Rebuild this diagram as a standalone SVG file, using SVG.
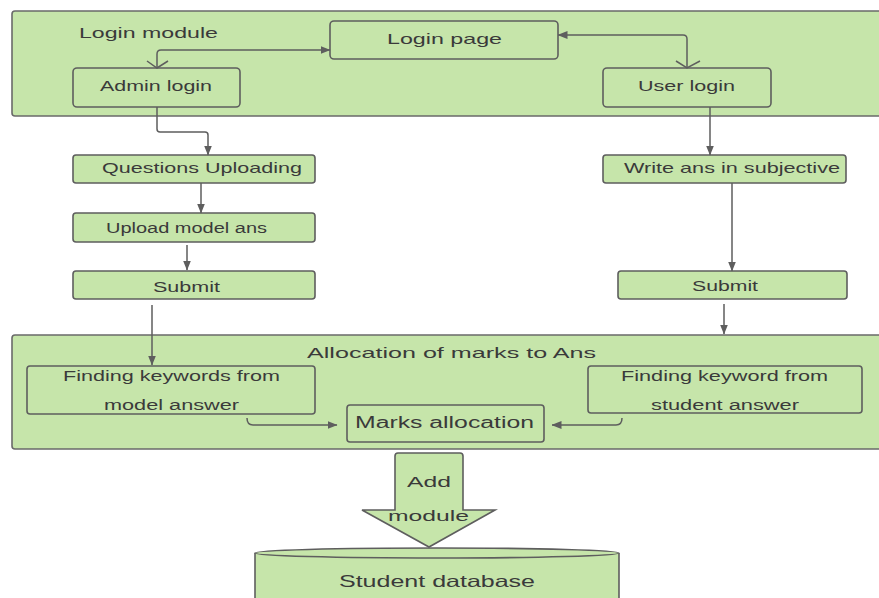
<svg xmlns="http://www.w3.org/2000/svg" width="879" height="598" viewBox="0 0 879 598">
<defs>
<style>
.box{fill:#c6e5aa;stroke:#5e5e5e;stroke-width:1.6}
.cont{fill:#c6e5aa;stroke:#6a6a6a;stroke-width:1.6}
.t{font-family:"Liberation Sans",Arial,sans-serif;fill:#3a3a3a}
.c{fill:none;stroke:#5e5e5e;stroke-width:1.5}
.chev{fill:none;stroke:#5e5e5e;stroke-width:1.5}
</style>
<marker id="ah" viewBox="0 0 10 8" refX="9.5" refY="4" markerWidth="10" markerHeight="8" markerUnits="userSpaceOnUse" orient="auto">
<path d="M0,0 L10,4 L0,8 Z" fill="#5e5e5e"/>
</marker>
</defs>
<rect width="879" height="598" fill="#ffffff"/>

<g id="login-module">
<rect class="cont" x="12" y="11" width="880" height="105" rx="3"/>
<text class="t" x="79" y="38" font-size="15" textLength="139" lengthAdjust="spacingAndGlyphs">Login module</text>
</g>
<g id="login-page">
<rect class="box" x="330" y="21" width="228" height="38" rx="4"/>
<text class="t" x="387" y="44" font-size="14.5" textLength="115" lengthAdjust="spacingAndGlyphs">Login page</text>
</g>
<g id="admin-login">
<rect class="box" x="73" y="68" width="167" height="39" rx="4"/>
<text class="t" x="100" y="91" font-size="15" textLength="112" lengthAdjust="spacingAndGlyphs">Admin login</text>
</g>
<g id="user-login">
<rect class="box" x="603" y="68" width="168" height="39" rx="4"/>
<text class="t" x="638" y="91" font-size="15" textLength="97" lengthAdjust="spacingAndGlyphs">User login</text>
</g>
<g id="questions-uploading">
<rect class="box" x="73" y="155" width="242" height="28" rx="3"/>
<text class="t" x="102" y="173" font-size="14.5" textLength="200" lengthAdjust="spacingAndGlyphs">Questions Uploading</text>
</g>
<g id="write-ans">
<rect class="box" x="603" y="155" width="243" height="28" rx="3"/>
<text class="t" x="624" y="173" font-size="14.5" textLength="216" lengthAdjust="spacingAndGlyphs">Write ans in subjective</text>
</g>
<g id="upload-model-ans">
<rect class="box" x="73" y="213" width="242" height="29" rx="3"/>
<text class="t" x="106" y="233" font-size="14" textLength="161" lengthAdjust="spacingAndGlyphs">Upload model ans</text>
</g>
<g id="submit-admin">
<rect class="box" x="73" y="271" width="242" height="28" rx="3"/>
<text class="t" x="153" y="292" font-size="14" textLength="67" lengthAdjust="spacingAndGlyphs">Submit</text>
</g>
<g id="submit-user">
<rect class="box" x="618" y="271" width="229" height="28" rx="3"/>
<text class="t" x="692" y="291" font-size="14" textLength="66" lengthAdjust="spacingAndGlyphs">Submit</text>
</g>
<g id="allocation-module">
<rect class="cont" x="12" y="335" width="880" height="114" rx="3"/>
<text class="t" x="307" y="358" font-size="14.5" textLength="289" lengthAdjust="spacingAndGlyphs">Allocation of marks to Ans</text>
</g>
<g id="keywords-model">
<rect class="box" x="27" y="366" width="288" height="48" rx="3"/>
<text class="t" x="63" y="381" font-size="14" textLength="217" lengthAdjust="spacingAndGlyphs">Finding keywords from</text>
<text class="t" x="104" y="410" font-size="14" textLength="135" lengthAdjust="spacingAndGlyphs">model answer</text>
</g>
<g id="keywords-student">
<rect class="box" x="588" y="366" width="274" height="47" rx="3"/>
<text class="t" x="621" y="381" font-size="14" textLength="207" lengthAdjust="spacingAndGlyphs">Finding keyword from</text>
<text class="t" x="651" y="410" font-size="14" textLength="148" lengthAdjust="spacingAndGlyphs">student answer</text>
</g>
<g id="marks-allocation">
<rect class="box" x="347" y="405" width="197" height="37" rx="3"/>
<text class="t" x="355" y="428" font-size="16" textLength="179" lengthAdjust="spacingAndGlyphs">Marks allocation</text>
</g>
<g id="add-module">
<path class="box" d="M395,456 Q395,453 398,453 L460,453 Q463,453 463,456 L463,510 L495,510 L429,547 L362,510 L395,510 Z"/>
<text class="t" x="407" y="487" font-size="15" textLength="44" lengthAdjust="spacingAndGlyphs">Add</text>
<text class="t" x="388" y="521" font-size="15" textLength="81" lengthAdjust="spacingAndGlyphs">module</text>
</g>
<g id="student-database">
<path class="box" d="M255,553 L255,610 L619,610 L619,553"/>
<ellipse class="box" cx="437" cy="553" rx="182" ry="5"/>
<text class="t" x="339" y="587" font-size="16.5" textLength="196" lengthAdjust="spacingAndGlyphs">Student database</text>
</g>

<g id="connectors">
<path class="c" d="M157,68 L157,54 Q157,50 161,50 L330,50" marker-end="url(#ah)"/>
<path class="chev" d="M147,61 L157,68 L168,61"/>
<path class="c" d="M687,68 L687,39 Q687,35 683,35 L558,35" marker-end="url(#ah)"/>
<path class="chev" d="M676,61 L687,68 L700,61"/>
<path class="c" d="M157,107 L157,129 Q157,132 160,132 L205,132 Q208,132 208,135 L208,155" marker-end="url(#ah)"/>
<path class="c" d="M710,107 L710,155" marker-end="url(#ah)"/>
<path class="c" d="M201,183 L201,213" marker-end="url(#ah)"/>
<path class="c" d="M187,245 L187,270" marker-end="url(#ah)"/>
<path class="c" d="M732,183 L732,271" marker-end="url(#ah)"/>
<path class="c" d="M152,305 L152,365" marker-end="url(#ah)"/>
<path class="c" d="M724,304 L724,334" marker-end="url(#ah)"/>
<path class="c" d="M247,418 Q247,425 253,425 L337,425" marker-end="url(#ah)"/>
<path class="c" d="M622,418 Q622,425 616,425 L552,425" marker-end="url(#ah)"/>
</g>
</svg>
